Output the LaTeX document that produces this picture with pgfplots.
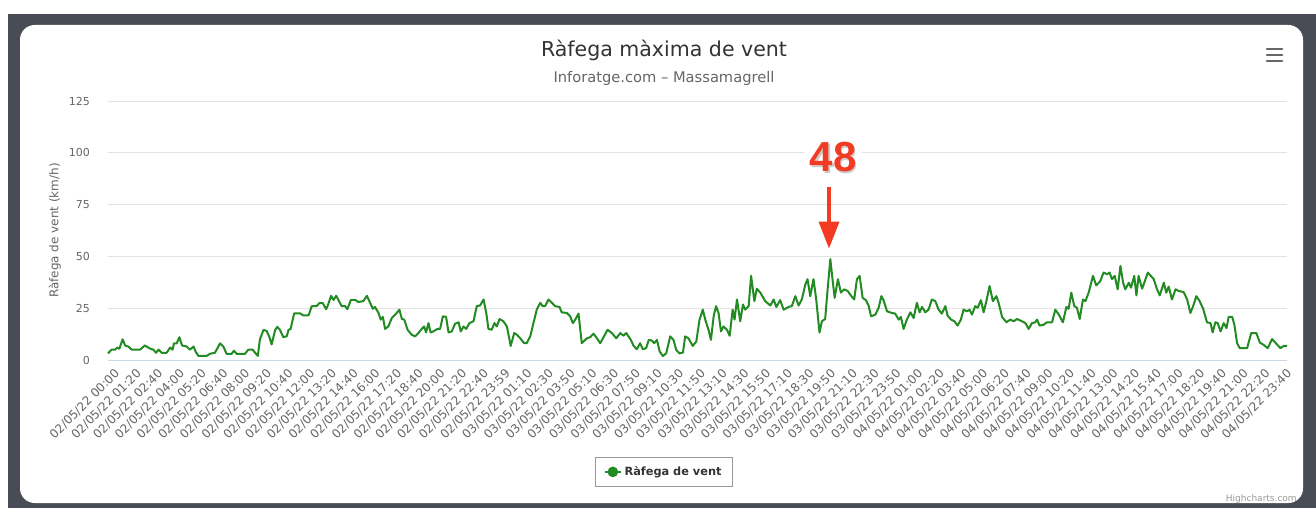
\documentclass[border=0pt]{standalone}
\usepackage{pgfplots}
\pgfplotsset{compat=1.18}
\usepackage{fontspec}
\setmainfont{DejaVu Sans}
\newfontfamily\annfont{Liberation Sans}
\definecolor{framec}{HTML}{494C54}
\definecolor{hcgreen}{RGB}{34,139,34}
\definecolor{gridc}{HTML}{E3E3E3}
\definecolor{axisc}{HTML}{CCD6EB}
\definecolor{labc}{HTML}{666666}
\definecolor{titc}{HTML}{333333}
\definecolor{legc}{HTML}{999999}
\definecolor{redann}{HTML}{F23B22}
\begin{document}
\begin{tikzpicture}[x=0.75pt,y=0.75pt]
\fill[white] (0,0) rectangle (1316,508);
\fill[framec] (8,0) rectangle (1316,494);
\fill[white, rounded corners=11pt] (20,5) rectangle (1303,483);
\node[anchor=base, font=\fontsize{15.4}{17}\selectfont, text=titc] at (664,451) {Ràfega màxima de vent};
\node[anchor=base, font=\fontsize{11}{13}\selectfont, text=labc] at (664,425) {Inforatge.com – Massamagrell};
\begin{axis}[
  at={(81pt,111pt)}, anchor=south west, scale only axis,
  width=884.25pt, height=194.25pt,
  xmin=0, xmax=434.5, ymin=0, ymax=125,
  axis x line*=bottom, axis y line*=left,
  y axis line style={draw=none},
  x axis line style={color=axisc, line width=0.75pt},
  major tick length=0pt,
  ytick={0,25,...,125},
  ymajorgrids, major grid style={color=gridc, line width=0.75pt},
  /pgf/number format/assume math mode=true,
  yticklabel style={font=\fontsize{8.25}{9}\selectfont, text=labc, xshift=-10pt},
  xtick={0,8,...,432},
  xticklabels={02/05/22 00:00,02/05/22 01:20,02/05/22 02:40,02/05/22 04:00,02/05/22 05:20,02/05/22 06:40,02/05/22 08:00,02/05/22 09:20,02/05/22 10:40,02/05/22 12:00,02/05/22 13:20,02/05/22 14:40,02/05/22 16:00,02/05/22 17:20,02/05/22 18:40,02/05/22 20:00,02/05/22 21:20,02/05/22 22:40,02/05/22 23:59,03/05/22 01:10,03/05/22 02:30,03/05/22 03:50,03/05/22 05:10,03/05/22 06:30,03/05/22 07:50,03/05/22 09:10,03/05/22 10:30,03/05/22 11:50,03/05/22 13:10,03/05/22 14:30,03/05/22 15:50,03/05/22 17:10,03/05/22 18:30,03/05/22 19:50,03/05/22 21:10,03/05/22 22:30,03/05/22 23:50,04/05/22 01:00,04/05/22 02:20,04/05/22 03:40,04/05/22 05:00,04/05/22 06:20,04/05/22 07:40,04/05/22 09:00,04/05/22 10:20,04/05/22 11:40,04/05/22 13:00,04/05/22 14:20,04/05/22 15:40,04/05/22 17:00,04/05/22 18:20,04/05/22 19:40,04/05/22 21:00,04/05/22 22:20,04/05/22 23:40},
  xticklabel style={rotate=45, anchor=east, font=\fontsize{9}{10}\selectfont, text=labc, yshift=-11pt, inner sep=1pt},
  ylabel={Ràfega de vent (km/h)},
  ylabel style={at={(axis description cs:-0.045,0.5)}, anchor=center, font=\fontsize{9}{10}\selectfont, text=labc},
  legend style={at={(axis description cs:0.4716,-0.432)}, anchor=center, draw=legc, line width=0.6pt, font=\fontsize{8.5}{10}\selectfont\bfseries, text=titc, inner xsep=6.5pt, inner ysep=5pt},
  legend image code/.code={\draw[hcgreen, line width=1.5pt] (0pt,0pt) -- (12pt,0pt); \fill[hcgreen] (6pt,0pt) circle (3.2pt);},
  clip=false,
]
\addplot[color=hcgreen, line width=1.5pt, line join=round, no markers] coordinates {
(0,3.2)(1.35,5)(2.6,5)(3.4,6)(4.2,5.5)(5.4,10)(6.3,7)(7.5,6.5)(8.7,5)(11.8,5)(13.6,7)(15.5,5.5)(16.7,5)(17.7,3.5)(18.6,5)(19.8,3.5)(21.6,3.5)(22.9,6)(23.8,5)(24.3,8)(25.3,8)(26.3,11)(27.3,7)(29.0,6.5)(30.2,5)(31.5,6.5)(32.3,4)(33.3,2)(36.4,2)(37.6,3)(39.4,3.5)(41.3,8)(42.5,6.5)(43.7,3)(45.6,3)(46.4,4.5)(47.4,3)(50.5,3)(51.7,5)(53.3,5)(54.2,3.5)(55.2,2)(56.0,10)(57.3,14.5)(58.5,14)(59.5,11)(60.3,7.5)(61.6,14.5)(62.4,16)(63.4,14.5)(64.6,11)(65.9,11.5)(66.5,14.5)(67.3,15)(68.6,22.5)(70.8,22.5)(72.0,21.5)(73.9,21.5)(75.1,26)(76.9,26)(77.9,27.5)(79.1,27.5)(80.4,24.5)(81.2,27)(82.2,31)(83.1,29)(84.1,31)(85.3,28)(86.1,26)(87.4,26)(88.2,24.5)(89.5,29)(91.1,29)(92.3,28)
(94.1,28.4)(95.4,31)(96.6,27.6)(97.6,24.7)(98.4,25.6)(99.7,22.7)(100.5,19.5)(101.3,20.8)(102.1,15)(103.3,16.2)(104.6,20.3)(106.2,22.4)(107.4,24.3)(108.3,19.8)(109.2,19.5)(110.4,14.6)(111.9,12.2)(113.2,11.4)(114.4,13)(115.6,15)(116.5,16.2)(117.2,13.3)(118.1,17.8)(118.9,13.3)(119.9,13.8)(121.4,15)(122.4,15)(123.4,21.1)(124.6,20.8)(125.5,13.3)(126.7,13.8)(127.9,17.5)(129.2,18.2)(130.0,13.8)(131.0,16.2)(132.0,15)(133.2,17.8)(134.7,18.7)(135.9,26)(137.1,26.3)(138.4,29.2)(139.4,22.7)(140.2,15)(141.4,14.6)(142.4,17.8)(143.3,16.2)(144.3,19.8)(145.7,18.7)(147.0,16.2)(148.4,6.8)(149.7,13)(150.7,12.2)(151.9,10.5)(153.4,8.1)(154.3,8.1)(155.6,11.4)(156.8,17.8)(158.0,24.3)(159.3,27.6)(160.2,26)(161.1,26)(162.3,29.2)(163.6,27.6)(164.8,26)(166.4,25.6)(167.2,23)(169.1,22.7)(170.3,21.1)(171.3,17.8)(172.2,19.5)(173.4,22.4)(174.6,8.1)(176.5,10.5)(177.7,11)(178.9,12.7)(180.2,10.5)(181.4,8.1)(182.9,11.7)(184.1,14.6)(185.7,13)(187.3,10.5)(188.8,13)(190.0,11.7)(191.0,13)(191.8,11.4)(192.7,9.7)(193.7,6.8)(194.9,5.2)(196.1,8.1)(197.1,5.2)(198.3,5.7)(199.3,9.7)(200.4,9.4)(201.3,8.1)(202.3,9.7)(203.3,4.1)(204.5,1.9)(205.7,3.2)(207.2,11.4)(208.4,9.7)(209.4,4.9)(210.6,3.2)(211.9,3.6)(212.7,11.4)(213.9,10.5)
(215.5,6.8)(216.8,8.9)(218.0,19.5)(219.2,24.3)(220.1,19.5)(221.3,14.6)(222.2,9.7)(223.2,21.1)(224.1,26)(225.0,22.7)(225.9,13.8)(226.8,16.2)(228.1,14.6)(229.1,11.7)(230.2,24.3)(230.9,19.5)(231.8,29.2)(233.0,18.7)(234.0,26.8)(234.8,24.3)(236.1,26)(237.0,40.6)(238.2,28.4)(239.1,34.4)(240.4,32.5)(242.2,28.4)(244.1,26.3)(245.3,29.2)(246.3,25.6)(247.7,28.9)(249.0,24.3)(250.8,25.6)(252.0,26)(253.3,30.8)(254.5,26.3)(255.7,29.2)(257.0,36.5)(257.8,39)(258.8,30.8)(260.0,39)(261.0,29.2)(262.2,13.3)(263.1,18.7)(264.3,19.8)(265.2,34.1)(266.2,48.7)(267.0,39)(267.8,30)(269.0,39)(270.1,32.5)(271.3,34.1)(272.6,33.3)(273.5,31.6)(275.0,29.2)(276.0,39)(277.0,40.6)(278.1,30)(279.3,28.9)(280.3,26.3)(281.2,21.1)(282.8,21.9)(284.0,25.2)(285.0,30.8)(285.8,28.9)(287.1,23.5)(288.9,22.7)(290.1,22.4)(291.4,19.5)(292.2,20.8)(293.2,15)(294.4,19.5)(295.7,23)(296.9,20.3)(298.1,27.6)(299.1,23)(300.0,25.6)(301.2,23)(302.4,24.3)(303.6,29.2)(304.9,28.4)(306.1,24.3)(307.3,22.4)(308.6,26)(309.4,21.4)(310.7,19.5)(311.9,18.7)(313.1,16.6)(314.3,19.5)(315.3,24.3)(316.6,23.5)(317.5,24.3)(318.4,21.9)(319.6,26)(320.5,25.2)(321.7,28.9)(322.7,23)(323.7,28.4)(324.9,35.7)(326.1,28.4)(327.4,30.8)(328.2,27.6)(329.5,20.8)(331.1,18.2)
(332.5,19.5)(333.8,18.7)(335.0,19.8)(336.8,18.7)(338.1,17.8)(339.3,15)(340.5,17.8)(341.7,18.2)(342.4,19.5)(343.3,16.6)(344.8,17)(346.0,18.2)(347.9,18.2)(349.1,24.3)(350.4,21.9)(351.9,18.2)(353.2,25.6)(354.0,24.7)(355.0,32.5)(356.1,26)(357.1,25.2)(358.1,19.8)(359.3,29.2)(360.2,28.4)(361.4,32.5)(363.0,40.6)(364.2,36)(365.7,38.1)(366.9,42.2)(368.2,41.4)(369.1,42.2)(370.0,39)(371.0,40.6)(372.1,34.1)(373.1,45.4)(374.1,37.3)(374.9,34.1)(376.2,37.3)(377.0,34.9)(378.2,40.6)(379.0,31.2)(379.8,40.6)(381.1,34.4)(381.9,37.3)(383.2,42.2)(384.1,40.9)(385.4,39)(386.6,34.1)(387.6,31.2)(389.1,37.3)(390.0,32.5)(390.9,35.4)(392.1,29.2)(393.4,34.1)(394.6,33.3)(396.4,32.8)(397.7,29.2)(398.9,22.7)(399.9,26)(401.1,30.8)(402.3,28.4)(403.6,24.7)(405.0,18.2)(406.3,17.8)(407.1,13.3)(408.1,18.2)(409.0,17.8)(410.0,13.8)(411.2,17.8)(412.2,15.4)(413.0,20.8)(414.3,20.8)(415.1,17)(416.1,8.1)(417.1,5.7)(419.8,5.7)(421.3,13)(423.2,13)(424.5,8.4)(425.9,7.3)(427.4,5.7)(429.0,10.1)(430.6,7.8)(432.1,5.7)(433.3,6.8)(434.5,6.8)
};
\addlegendentry{Ràfega de vent}
\end{axis}
% annotation "48" with arrow (white halo breaks the gridline behind it)
\fill[white] (804,341) rectangle (862,369);
\node[font=\annfont\bfseries\fontsize{31.5}{32}\selectfont, text=black, opacity=0.2] at (834.5,349) {48};
\node[font=\annfont\bfseries\fontsize{31.5}{32}\selectfont, text=redann] at (833,351.3) {48};
\draw[redann, line width=2.6pt] (829,321.3) -- (829,282);
\fill[redann] (818.5,286.3) -- (839.5,286.3) -- (829,259.7) -- cycle;
% menu icon
\foreach \yy in {459,453,447}{
  \draw[labc, line width=2.2pt, line cap=round] (1267,\yy) -- (1282,\yy);
}
\node[anchor=base east, font=\fontsize{6.75}{8}\selectfont, text=legc, inner sep=0pt] at (1297,7) {Highcharts.com};
\pgfresetboundingbox
\path[use as bounding box] (0,0) rectangle (1316,508);
\end{tikzpicture}
\end{document}
